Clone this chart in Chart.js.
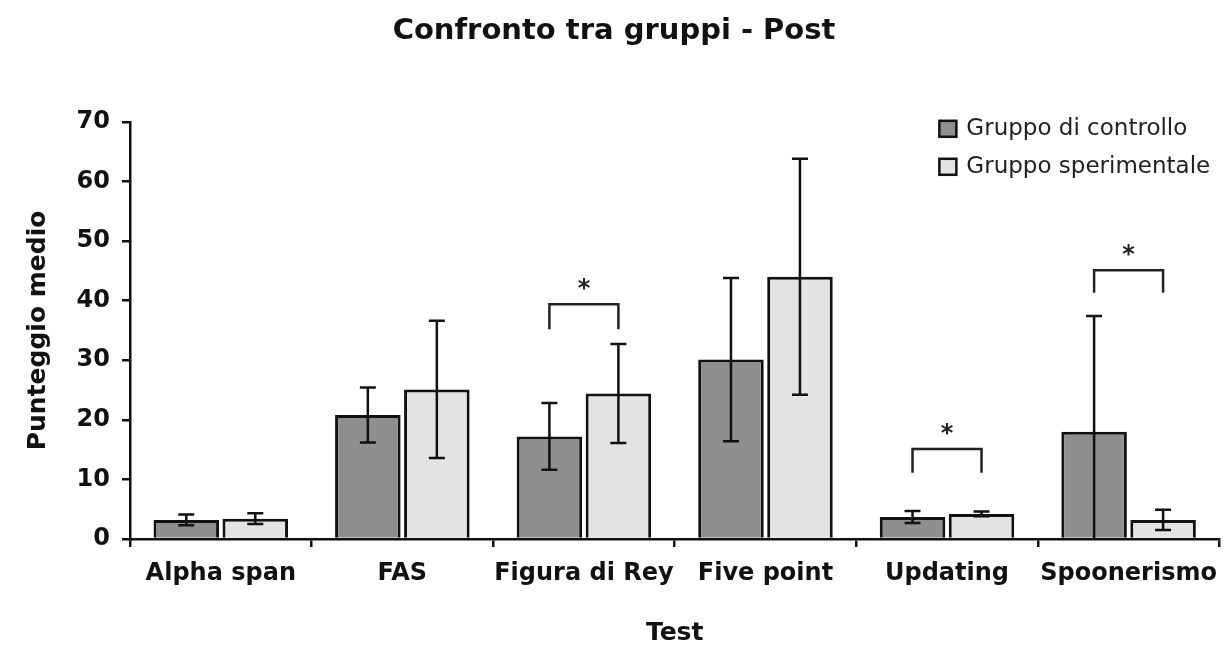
<!DOCTYPE html>
<html>
<head>
<meta charset="utf-8">
<script src="https://cdn.jsdelivr.net/npm/chart.js@4"></script>
<style>
  html, body { margin: 0; padding: 0; background: #fff; }
  #wrap { width: 1229px; height: 648px; position: relative; }
</style>
</head>
<body>
<div id="wrap"><canvas id="postChart"></canvas></div>
<script>
// dati
const categories = ['Alpha span', 'FAS', 'Figura di Rey', 'Five point', 'Updating', 'Spoonerismo'];
const controlMeans = [3.2, 20.8, 17.2, 30.1, 3.7, 18.0];
const controlErrors = [0.9, 4.6, 5.6, 13.7, 1.0, 19.4];
const expMeans = [3.4, 25.1, 24.4, 44.0, 4.2, 3.2];
const expErrors = [0.9, 11.5, 8.3, 19.8, 0.4, 1.7];
const yTicks = [0, 10, 20, 30, 40, 50, 60, 70];

// confronti significativi (*): categoria, altezza barra orizzontale, fine delle gambe
const sigCategories = ['Figura di Rey', 'Updating', 'Spoonerismo'];
const sigTop = [39.4, 15.1, 45.1];
const sigLeg = [35.2, 11.1, 41.3];

const FONT = "'DejaVu Sans', sans-serif";
const INK = '#111';

// barre di errore
const errorBarsPlugin = {
    id: 'errorBars',
    afterDatasetsDraw(chart) {
        const ctx = chart.ctx;
        const y = chart.scales.y;
        const errs = [controlErrors, expErrors];
        ctx.save();
        ctx.strokeStyle = INK;
        ctx.lineWidth = 2.5;
        errs.forEach((list, di) => {
            const meta = chart.getDatasetMeta(di);
            meta.data.forEach((bar, j) => {
                const m = chart.data.datasets[di].data[j];
                const lo = m - list[j];
                const top = y.getPixelForValue(m + list[j]);
                const bot = y.getPixelForValue(Math.max(lo, 0));
                const half = 8;
                ctx.beginPath();
                ctx.moveTo(bar.x, top);
                ctx.lineTo(bar.x, bot);
                ctx.moveTo(bar.x - half, top);
                ctx.lineTo(bar.x + half, top);
                if (lo > 0) {
                    ctx.moveTo(bar.x - half, bot);
                    ctx.lineTo(bar.x + half, bot);
                }
                ctx.stroke();
            });
        });
        ctx.restore();
    }
};

// parentesi con asterisco
const sigPlugin = {
    id: 'sigBrackets',
    afterDatasetsDraw(chart) {
        const ctx = chart.ctx;
        const y = chart.scales.y;
        const m0 = chart.getDatasetMeta(0);
        const m1 = chart.getDatasetMeta(1);
        ctx.save();
        ctx.strokeStyle = '#222';
        ctx.lineWidth = 2.5;
        ctx.fillStyle = '#222';
        ctx.font = 'bold 24px ' + FONT;
        ctx.textAlign = 'center';
        ctx.textBaseline = 'alphabetic';
        sigCategories.forEach((cat, k) => {
            const idx = categories.indexOf(cat);
            const x0 = m0.data[idx].x;
            const x1 = m1.data[idx].x;
            const yt = y.getPixelForValue(sigTop[k]);
            const yl = y.getPixelForValue(sigLeg[k]);
            ctx.beginPath();
            ctx.moveTo(x0, yl);
            ctx.lineTo(x0, yt);
            ctx.lineTo(x1, yt);
            ctx.lineTo(x1, yl);
            ctx.stroke();
            ctx.fillText('*', (x0 + x1) / 2, yt - 8);
        });
        ctx.restore();
    }
};

// legenda in alto a destra, dentro l'area del grafico
const legendPlugin = {
    id: 'boxLegend',
    afterDraw(chart) {
        const ctx = chart.ctx;
        const area = chart.chartArea;
        const x = area.right - 280;
        ctx.save();
        ctx.font = '23px ' + FONT;
        ctx.textBaseline = 'middle';
        chart.data.datasets.forEach((ds, i) => {
            const cy = area.top + 7 + i * 38;
            ctx.fillStyle = ds.backgroundColor;
            ctx.fillRect(x, cy - 8, 17, 16);
            ctx.strokeStyle = INK;
            ctx.lineWidth = 2.5;
            ctx.strokeRect(x, cy - 8, 17, 16);
            ctx.fillStyle = '#222';
            ctx.fillText(ds.label, x + 27, cy);
        });
        ctx.restore();
    }
};

const ctx = document.getElementById('postChart').getContext('2d');
const chart = new Chart(ctx, {
    type: 'bar',
    data: {
        labels: categories,
        datasets: [
            {
                label: 'Gruppo di controllo',
                data: controlMeans,
                backgroundColor: '#8f8f8f',
                borderColor: INK,
                borderWidth: 3,
                categoryPercentage: 0.76,
                barPercentage: 0.95
            },
            {
                label: 'Gruppo sperimentale',
                data: expMeans,
                backgroundColor: '#e3e3e3',
                borderColor: INK,
                borderWidth: 3,
                categoryPercentage: 0.76,
                barPercentage: 0.95
            }
        ]
    },
    options: {
        responsive: true,
        maintainAspectRatio: false,
        animation: false,
        layout: { padding: { left: 0, right: 1, top: 0, bottom: 0 } },
        plugins: {
            legend: { display: false },
            tooltip: { enabled: false },
            title: {
                display: true,
                text: 'Confronto tra gruppi - Post',
                color: INK,
                font: { family: FONT, size: 29, weight: 'bold' },
                padding: { top: 14, bottom: 73 }
            }
        },
        scales: {
            x: {
                grid: { drawOnChartArea: false, drawTicks: true, tickLength: 8, color: INK, lineWidth: 2.5, offset: true },
                border: { display: true, color: INK, width: 2.5 },
                ticks: { color: INK, padding: 12, autoSkip: false, maxRotation: 0, font: { family: FONT, size: 24, weight: 'bold' } },
                title: {
                    display: true,
                    text: 'Test',
                    color: INK,
                    font: { family: FONT, size: 25, weight: 'bold' },
                    padding: { top: 0, bottom: 0 }
                },
                afterFit(scale) { scale.height = 109; }
            },
            y: {
                min: 0,
                max: 70,
                grid: { drawOnChartArea: false, drawTicks: true, tickLength: 8, color: INK, lineWidth: 2.5 },
                border: { display: true, color: INK, width: 2.5 },
                afterBuildTicks(scale) { scale.ticks = yTicks.map(v => ({ value: v })); },
                ticks: { color: INK, padding: 12, font: { family: FONT, size: 24, weight: 'bold' } },
                title: {
                    display: true,
                    text: 'Punteggio medio',
                    color: INK,
                    font: { family: FONT, size: 25, weight: 'bold' },
                    padding: { top: 23, bottom: 0 }
                },
                afterFit(scale) { scale.width = 130; }
            }
        }
    },
    plugins: [errorBarsPlugin, sigPlugin, legendPlugin]
});
</script>
</body>
</html>
